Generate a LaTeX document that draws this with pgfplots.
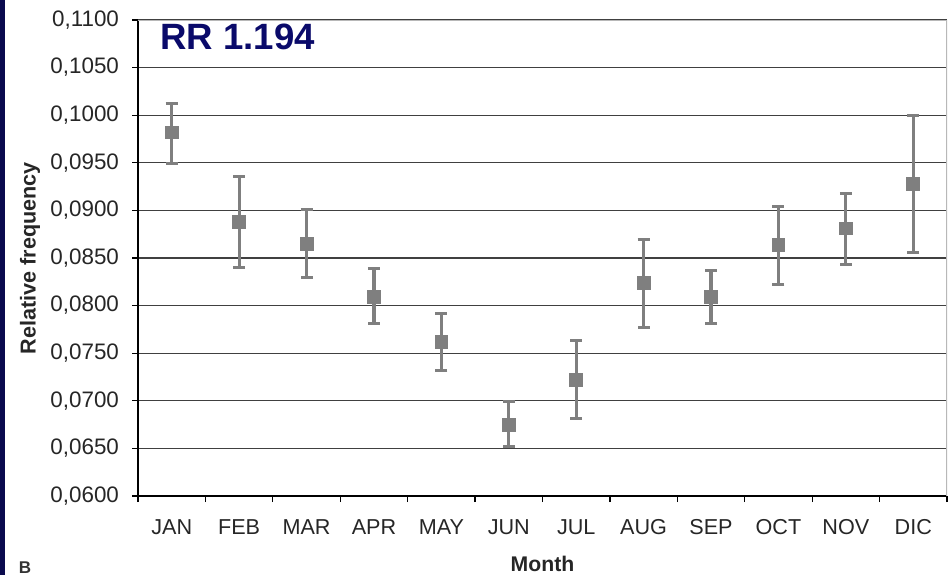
\documentclass[border=0pt]{standalone}
\usepackage{pgfplots}
\usepackage{pgfplotstable}
\pgfplotsset{compat=1.18}
\usepackage{fontspec}
\setmainfont{Liberation Sans}

\definecolor{navy}{HTML}{0A0A4E}
\definecolor{rrblue}{HTML}{0A0A6A}
\definecolor{bargray}{HTML}{7F7F7F}
\definecolor{gridgray}{HTML}{404040}
\definecolor{boxgray}{HTML}{B8B8B8}

% month, relative frequency, error up, error down
\pgfplotstableread{
x   y      ep     em
1   0.0982 0.0030 0.0033
2   0.0888 0.0048 0.0048
3   0.0865 0.0036 0.0035
4   0.0809 0.0030 0.0028
5   0.0762 0.0030 0.0030
6   0.0675 0.0024 0.0023
7   0.0722 0.0041 0.0041
8   0.0824 0.0045 0.0047
9   0.0809 0.0028 0.0028
10  0.0864 0.0040 0.0042
11  0.0881 0.0037 0.0038
12  0.0928 0.0072 0.0072
}\rrdata

\begin{document}
\begin{tikzpicture}
\path[use as bounding box] (0,0) rectangle (474.5pt,287.5pt);
\fill[navy] (0,0) rectangle (2.5pt,287.5pt);
\node[anchor=base, inner sep=0pt, font=\fontsize{8.5}{9}\selectfont\bfseries, text=black!80] at (12.5pt,0.6pt) {B};
\begin{axis}[
    at={(69pt,39.5pt)}, anchor=south west,
    width=404.5pt, height=238pt, scale only axis,
    xmin=0.5, xmax=12.5,
    ymin=0.06, ymax=0.11,
    axis x line*=bottom, axis y line*=left,
    axis line style={black, line width=0.6pt},
    ytick={0.06,0.065,0.07,0.075,0.08,0.085,0.09,0.095,0.1,0.105,0.11},
    xtick={0.5,1.5,...,12.5},
    xticklabels={},
    extra x ticks={1,...,12},
    extra x tick labels={JAN,FEB,MAR,APR,MAY,JUN,JUL,AUG,SEP,OCT,NOV,DIC},
    extra x tick style={major tick length=0pt, grid=none},
    tick align=outside,
    major tick length=3pt,
    tick style={black, line width=0.6pt},
    ymajorgrids,
    grid style={gridgray, line width=0.6pt},
    /pgf/number format/.cd, fixed, fixed zerofill, precision=4, use comma, assume math mode=true,
    /pgfplots/.cd,
    yticklabel style={font=\fontsize{11.2}{12}\selectfont, text=black!85, xshift=-3pt},
    xticklabel style={font=\fontsize{10.8}{12}\selectfont, text=black!85, anchor=center, yshift=-15.5pt},
    ylabel={Relative frequency},
    ylabel style={font=\fontsize{10.8}{12}\selectfont\bfseries, text=black!85,
        at={(axis description cs:-0.1335,0.5)}, rotate=0, anchor=center},
    xlabel={Month},
    xlabel style={font=\fontsize{10.6}{12}\selectfont\bfseries, text=black!85,
        at={(axis description cs:0.5,-0.1429)}, anchor=center},
]
\draw[boxgray, line width=0.7pt] (rel axis cs:0,1) -- (rel axis cs:1,1) -- (rel axis cs:1,0);
\addplot[draw=none, mark=square*, mark size=3.2pt,
    mark options={fill=bargray, draw=bargray},
    error bars/.cd, y dir=both, y explicit,
    error bar style={bargray, line width=1.6pt},
    error mark options={rotate=90, mark size=3pt, line width=1.5pt, bargray}]
    table[x=x, y=y, y error plus=ep, y error minus=em] {\rrdata};
\node[anchor=west, inner sep=0pt, text=rrblue, font=\fontsize{18.3}{20}\selectfont\bfseries]
    at (axis description cs:0.0272,0.964) {RR 1.194};
\end{axis}
\end{tikzpicture}
\end{document}
